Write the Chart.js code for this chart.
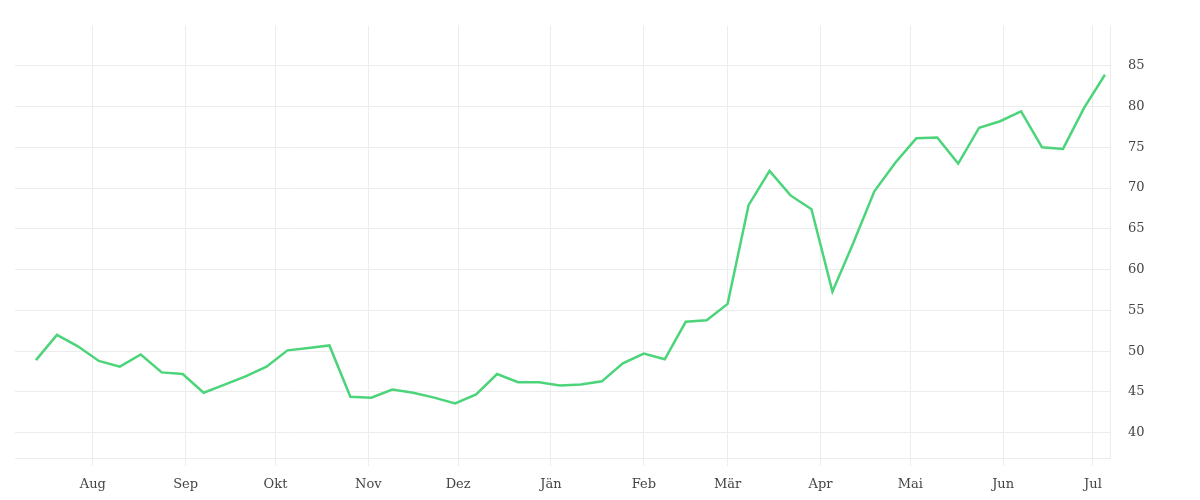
<!DOCTYPE html>
<html><head><meta charset="utf-8">
<script src="https://cdn.jsdelivr.net/npm/chart.js@4"></script>
<style>html,body{margin:0;padding:0;background:#fff}#w{width:1200px;height:500px}</style>
</head><body><div id="w"><canvas id="c"></canvas></div>
<script>
const monthLabels = ["Aug","Sep","Okt","Nov","Dez","Jän","Feb","Mär","Apr","Mai","Jun","Jul"];
const monthDays = [0,31,61,92,122,153,184,212,243,273,304,334];
const firstDay = -19;
const values = [48.9,52.0,50.6,48.8,48.1,49.6,47.4,47.2,44.9,45.9,46.9,48.1,50.1,50.4,50.7,44.4,44.3,45.3,44.9,44.3,43.6,44.7,47.2,46.2,46.2,45.8,45.9,46.3,48.5,49.7,49.0,53.6,53.8,55.8,67.9,72.1,69.1,67.4,57.3,63.3,69.6,73.1,76.1,76.2,73.0,77.4,78.2,79.4,75.0,74.8,79.8,83.9];
const yTicks = [40,45,50,55,60,65,70,75,80,85];

const pts = values.map((v,i)=>({x:firstDay+7*i,y:v}));
const font = {family:"'DejaVu Serif', 'Liberation Serif', serif", size:13};
new Chart(document.getElementById('c'),{
  type:'line',
  data:{datasets:[{data:pts,borderColor:'#4cd47b',borderWidth:2.5,pointRadius:0,tension:0,fill:false}]},
  options:{
    responsive:true,maintainAspectRatio:false,animation:false,
    layout:{padding:{left:15,top:7,right:0,bottom:0}},
    plugins:{legend:{display:false},tooltip:{enabled:false}},
    scales:{
      x:{type:'linear',min:-26,max:339.7,
        afterBuildTicks:s=>{s.ticks=monthDays.map(v=>({value:v}));},
        afterFit:s=>{s.height=42;},
        ticks:{autoSkip:false,maxRotation:0,font:font,color:'#444',padding:11,
          callback:(v)=>{const i=monthDays.indexOf(v);return i>=0?monthLabels[i]:'';}},
        grid:{color:'#ececec',tickLength:8},border:{color:'#ececec'}},
      y:{position:'right',min:36.9,max:89.9,
        afterBuildTicks:s=>{s.ticks=yTicks.map(v=>({value:v}));},
        afterFit:s=>{s.width=90;},
        ticks:{font:font,color:'#444',padding:18},
        grid:{color:'#ececec',drawTicks:false},border:{color:'#ececec'}}
    }
  }
});
</script></body></html>
